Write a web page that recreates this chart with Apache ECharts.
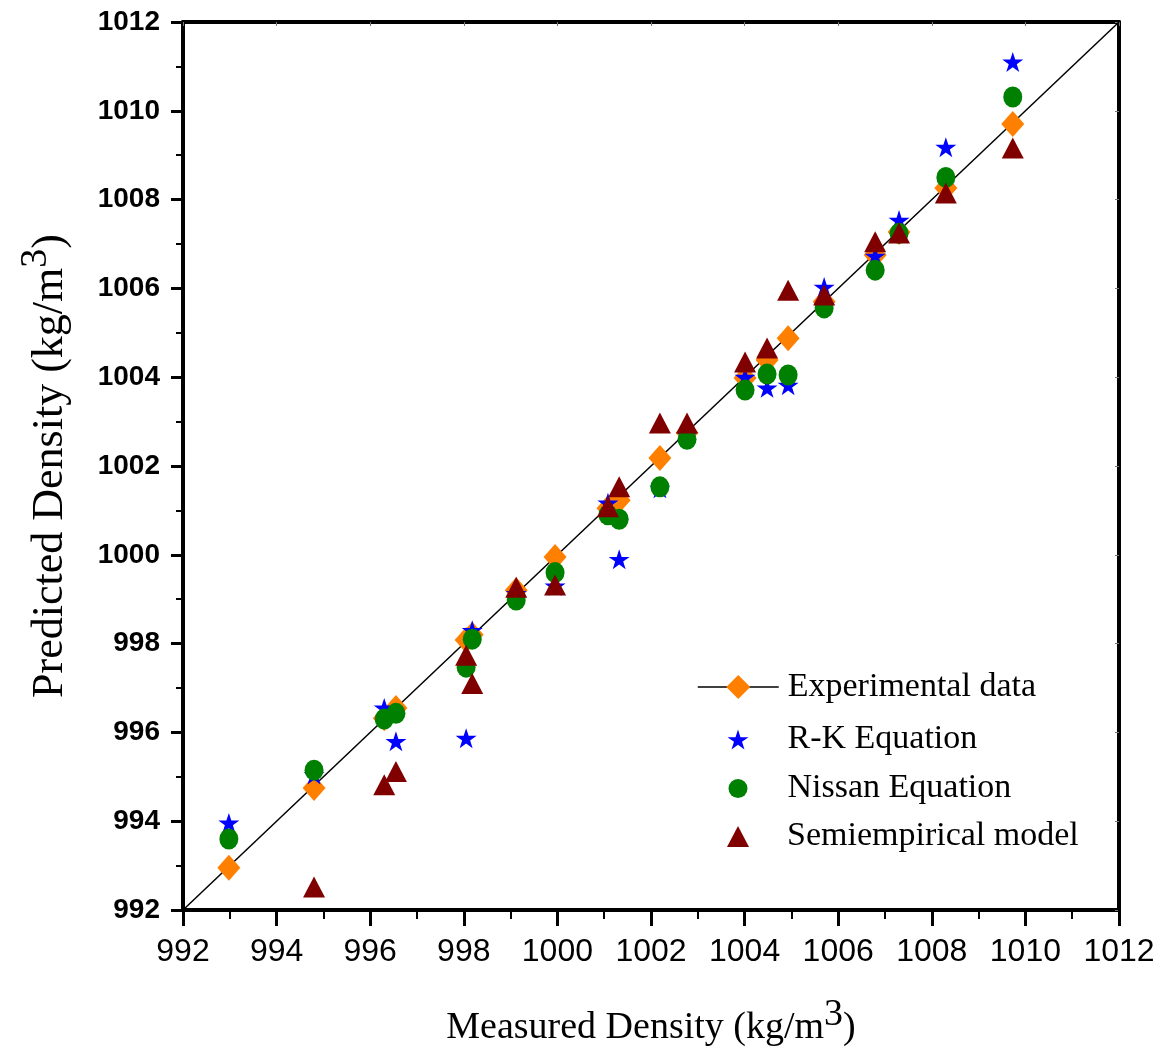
<!DOCTYPE html>
<html>
<head>
<meta charset="utf-8">
<script src="https://cdn.jsdelivr.net/npm/echarts@6/dist/echarts.min.js"></script>
<style>
  html, body { margin: 0; padding: 0; background: #fff; }
  #main { width: 1167px; height: 1055px; }
</style>
</head>
<body>
<div id="main"></div>
<script>
// values (kg/m3)
const measured     = [992.98, 994.8, 996.3, 996.55, 998.05, 998.18, 999.12, 999.95, 1001.08, 1001.32, 1002.19, 1002.77, 1004.01, 1004.48, 1004.93, 1005.7, 1006.79, 1007.3, 1008.3, 1009.73];
const experimental = [992.95, 994.75, 996.32, 996.55, 998.08, 998.2, 999.2, 999.95, 1001.05, 1001.23, 1002.18, 1002.75, 1003.98, 1004.39, 1004.88, 1005.7, 1006.75, 1007.27, 1008.26, 1009.7];
const rkEquation   = [993.96, 995.05, 996.55, 995.8, 995.87, 998.3, 999.13, 999.3, 1001.17, 999.9, 1001.5, 1002.7, 1004.0, 1003.76, 1003.82, 1006.03, 1006.73, 1007.54, 1009.18, 1011.1];
const nissan       = [993.6, 995.15, 996.3, 996.43, 997.47, 998.1, 998.98, 999.6, 1000.9, 1000.8, 1001.53, 1002.6, 1003.71, 1004.07, 1004.05, 1005.56, 1006.41, 1007.24, 1008.5, 1010.31];
const semiEmp      = [null, 992.52, 994.82, 995.12, 997.74, 997.1, 999.27, 999.32, 1001.08, 1001.53, 1002.97, 1002.97, 1004.34, 1004.66, 1005.96, 1005.85, 1007.05, 1007.25, 1008.15, 1009.16];
const diagonal     = [992, 1012];
const axisTicks    = [992, 1012, 2];

const pairs = (ys) => measured.map((x, i) => [x, ys[i]]).filter(p => p[1] != null);

const starPath = 'path://M100,0L122.45,69.1L195.1,69.1L136.3,111.8L158.8,180.9L100,138.2L41.2,180.9L63.7,111.8L4.9,69.1L77.55,69.1Z';
const serif = "'Liberation Serif', 'Times New Roman', serif";

const chart = echarts.init(document.getElementById('main'));

const baseAxis = {
  min: axisTicks[0],
  max: axisTicks[1],
  interval: axisTicks[2],
  axisLine: { show: true, onZero: false, lineStyle: { color: '#000', width: 4 } },
  splitLine: { show: false }
};

const legendText = { fontFamily: serif, fontSize: 34, color: '#000' };

const option = {
  backgroundColor: '#fff',
  animation: false,
  grid: { left: 183, right: 48, top: 22, bottom: 145, outerBoundsMode: 'none' },
  xAxis: [
    Object.assign({}, baseAxis, {
      type: 'value',
      position: 'bottom',
      axisTick: { show: true, inside: false, length: 16, lineStyle: { width: 3, color: '#000' } },
      minorTick: { show: true, splitNumber: 2, length: 9, lineStyle: { width: 2, color: '#000' } },
      axisLabel: {
        margin: 26, fontFamily: "'Liberation Sans Narrow', 'Liberation Sans', sans-serif", fontSize: 32, color: '#000',
        formatter: (v) => String(v)
      },
      name: '{a|Measured Density (kg/m}{s|3}{a|)}',
      nameLocation: 'middle',
      nameGap: 86,
      nameTextStyle: {
        rich: {
          a: { fontFamily: serif, fontSize: 38, lineHeight: 64, color: '#000' },
          s: { fontFamily: serif, fontSize: 38, lineHeight: 12, verticalAlign: 'top', color: '#000' }
        }
      }
    }),
    Object.assign({}, baseAxis, {
      type: 'value',
      position: 'top',
      axisTick: { show: true, inside: true, length: 4, lineStyle: { width: 1, color: '#777' } },
      axisLabel: { show: false }
    })
  ],
  yAxis: [
    Object.assign({}, baseAxis, {
      type: 'value',
      position: 'left',
      axisTick: { show: true, inside: false, length: 12, lineStyle: { width: 3, color: '#000' } },
      minorTick: { show: true, splitNumber: 2, length: 7, lineStyle: { width: 2, color: '#000' } },
      axisLabel: {
        margin: 23, fontFamily: "'Liberation Sans', Arial, sans-serif", fontWeight: 'bold', fontSize: 28, color: '#000',
        formatter: (v) => String(v)
      },
      name: '{a|Predicted Density (kg/m}{s|3}{a|)}',
      nameLocation: 'middle',
      nameGap: 100,
      nameTextStyle: {
        rich: {
          a: { fontFamily: serif, fontSize: 44, lineHeight: 66, color: '#000' },
          s: { fontFamily: serif, fontSize: 38, lineHeight: 16, verticalAlign: 'top', color: '#000' }
        }
      }
    }),
    Object.assign({}, baseAxis, {
      type: 'value',
      position: 'right',
      axisTick: { show: true, inside: true, length: 4, lineStyle: { width: 1, color: '#777' } },
      axisLabel: { show: false }
    })
  ],
  legend: [
    {
      data: ['Experimental data'], selectedMode: false, orient: 'vertical',
      left: 692, top: 665, itemWidth: 81, itemHeight: 30,
      lineStyle: { color: '#000', width: 1.5, opacity: 1, type: 'solid' },
      textStyle: Object.assign({ lineHeight: 30, padding: [0, 0, 0, 4] }, legendText)
    },
    {
      data: ['R-K Equation'], selectedMode: false,
      left: 722.5, top: 717.5, itemWidth: 21, itemHeight: 21,
      textStyle: Object.assign({ lineHeight: 21, padding: [0, 0, 0, 34] }, legendText)
    },
    {
      data: ['Nissan Equation'], selectedMode: false,
      left: 723.5, top: 766.5, itemWidth: 19, itemHeight: 21,
      textStyle: Object.assign({ lineHeight: 21, padding: [0, 0, 0, 35] }, legendText)
    },
    {
      data: ['Semiempirical model'], selectedMode: false,
      left: 722, top: 814.5, itemWidth: 22, itemHeight: 21,
      textStyle: Object.assign({ lineHeight: 21, padding: [0, 0, 0, 33] }, legendText)
    }
  ],
  series: [
    {
      name: 'diagonal',
      type: 'line',
      data: [[diagonal[0], diagonal[0]], [diagonal[1], diagonal[1]]],
      symbol: 'none',
      silent: true,
      lineStyle: { color: '#000', width: 1.5 },
      z: 1
    },
    {
      name: 'Experimental data',
      type: 'line',
      data: pairs(experimental),
      symbol: 'diamond',
      symbolSize: [23, 26],
      itemStyle: { color: '#FF8000' },
      lineStyle: { opacity: 0 },
      z: 2
    },
    {
      name: 'R-K Equation',
      type: 'scatter',
      data: pairs(rkEquation),
      symbol: starPath,
      symbolSize: [21, 20],
      itemStyle: { color: '#0000FF', opacity: 1 },
      z: 3
    },
    {
      name: 'Nissan Equation',
      type: 'scatter',
      data: pairs(nissan),
      symbol: 'circle',
      symbolSize: [19, 21],
      itemStyle: { color: '#008000', opacity: 1 },
      z: 4
    },
    {
      name: 'Semiempirical model',
      type: 'scatter',
      data: pairs(semiEmp),
      symbol: 'triangle',
      symbolSize: [22, 21],
      itemStyle: { color: '#800000', opacity: 1 },
      z: 5
    }
  ]
};

chart.setOption(option);
</script>
</body>
</html>
